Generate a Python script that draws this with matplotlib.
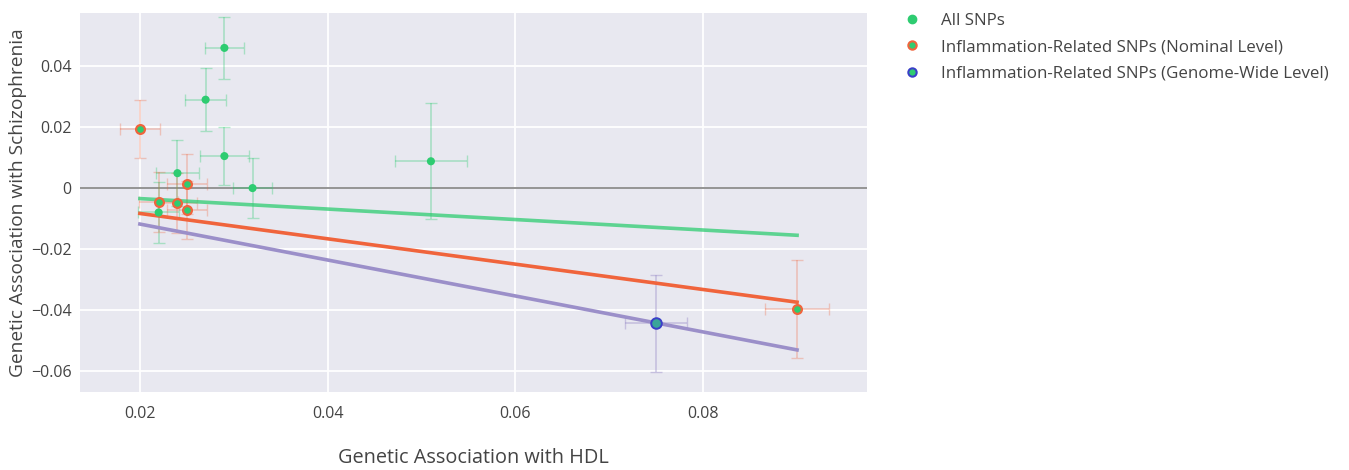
import matplotlib
matplotlib.use("Agg")
import matplotlib.pyplot as plt
from matplotlib.lines import Line2D

plt.rcParams['font.family'] = ['Open Sans', 'DejaVu Sans']
plt.rcParams['axes.unicode_minus'] = True

# All SNPs
all_x = [0.029, 0.027, 0.029, 0.032, 0.051, 0.024, 0.022]
all_y = [0.046, 0.029, 0.0105, 0.0, 0.0088, 0.0049, -0.008]
all_xerr = [0.0021, 0.0022, 0.0026, 0.0021, 0.0038, 0.0023, 0.0022]
all_yerr = [0.0102, 0.0103, 0.0096, 0.0099, 0.019, 0.0108, 0.010]

# Inflammation-related SNPs (nominal level)
nom_x = [0.020, 0.025, 0.025, 0.022, 0.024, 0.090]
nom_y = [0.0194, 0.0014, -0.0072, -0.0046, -0.0049, -0.0396]
nom_xerr = [0.0021, 0.0021, 0.0021, 0.0021, 0.0021, 0.0034]
nom_yerr = [0.0095, 0.0098, 0.0096, 0.0098, 0.0098, 0.016]

# Inflammation-related SNPs (genome-wide level)
gw_x = [0.075]
gw_y = [-0.0444]
gw_xerr = [0.0033]
gw_yerr = [0.016]

# IVW slopes (through origin)
slope_all = -0.172
slope_nom = -0.416
slope_gw = -0.59
line_x = [0.02, 0.09]

GREEN = '#2ecc71'
ORANGE = '#f0643c'
BLUE = '#3a3fc8'
PURPLE = '#9b8fc9'

fig = plt.figure(figsize=(13.49, 4.70), dpi=100)
ax = fig.add_axes([0.0593, 0.166, 0.5834, 0.806])
ax.set_facecolor('#e8e8f0')
for s in ax.spines.values():
    s.set_visible(False)

ax.grid(True, color='white', linewidth=1.3)
ax.set_axisbelow(True)
ax.axhline(0, color='#777777', linewidth=1.1, zorder=1)

ax.errorbar(all_x, all_y, xerr=all_xerr, yerr=all_yerr, fmt='none',
            ecolor=GREEN, alpha=0.35, elinewidth=1.2, capsize=4, zorder=2)
ax.errorbar(nom_x, nom_y, xerr=nom_xerr, yerr=nom_yerr, fmt='none',
            ecolor=ORANGE, alpha=0.3, elinewidth=1.2, capsize=4, zorder=2)
ax.errorbar(gw_x, gw_y, xerr=gw_xerr, yerr=gw_yerr, fmt='none',
            ecolor=PURPLE, alpha=0.45, elinewidth=1.2, capsize=4, zorder=2)

ax.plot(line_x, [slope_all * v for v in line_x], color=GREEN, alpha=0.75, linewidth=2.6, zorder=3)
ax.plot(line_x, [slope_nom * v for v in line_x], color=ORANGE, linewidth=2.6, zorder=3)
ax.plot(line_x, [slope_gw * v for v in line_x], color=PURPLE, linewidth=2.6, zorder=3)

ax.scatter(all_x, all_y, s=34, color=GREEN, edgecolors='none', zorder=4)
ax.scatter(nom_x, nom_y, s=40, color=GREEN, edgecolors=ORANGE, linewidths=1.6, zorder=5)
ax.scatter(gw_x, gw_y, s=58, color='#3aa59a', edgecolors=BLUE, linewidths=1.4, zorder=6)

ax.set_xlim(0.01362, 0.09745)
ax.set_ylim(-0.0669, 0.0574)
ax.set_xticks([0.02, 0.04, 0.06, 0.08])
ax.set_xticklabels(['0.02', '0.04', '0.06', '0.08'])
ax.set_yticks([0.04, 0.02, 0, -0.02, -0.04, -0.06])
ax.set_yticklabels(['0.04', '0.02', '0', '\u22120.02', '\u22120.04', '\u22120.06'])
ax.tick_params(axis='both', length=0, labelsize=11.5, colors='#444444', pad=10)
ax.tick_params(axis='y', pad=6)

ax.set_xlabel('Genetic Association with HDL', fontsize=14.3, color='#444444', labelpad=19)
ax.set_ylabel('Genetic Association with Schizophrenia', fontsize=13.8, color='#444444', labelpad=3)

handles = [
    Line2D([], [], marker='o', linestyle='none', markersize=6, markerfacecolor=GREEN, markeredgecolor=GREEN),
    Line2D([], [], marker='o', linestyle='none', markersize=6, markerfacecolor=GREEN, markeredgecolor=ORANGE, markeredgewidth=1.5),
    Line2D([], [], marker='o', linestyle='none', markersize=6, markerfacecolor=GREEN, markeredgecolor=BLUE, markeredgewidth=1.5),
]
labels = ['All SNPs', 'Inflammation-Related SNPs (Nominal Level)',
          'Inflammation-Related SNPs (Genome-Wide Level)']
leg = fig.legend(handles, labels, loc='upper left', bbox_to_anchor=(0.655, 0.998),
                 frameon=False, fontsize=12.2, handletextpad=0.7, labelspacing=0.62,
                 borderaxespad=0.3)
for t in leg.get_texts():
    t.set_color('#444444')

fig.savefig('out.png', dpi=100)
